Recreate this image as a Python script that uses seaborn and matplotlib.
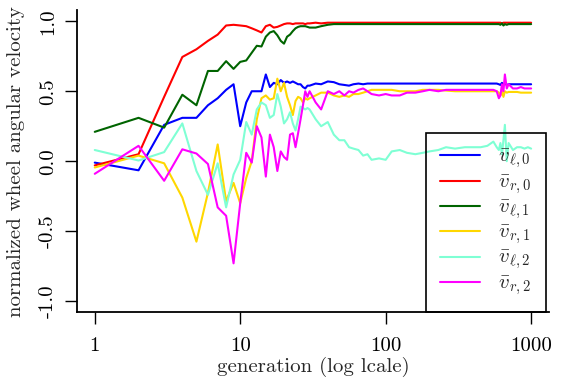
import seaborn as sns
import matplotlib.pyplot as plt

gens = list(range(1, 31)) + [33, 36, 40, 44, 48, 52, 56, 60, 65, 70, 75, 80, 90, 100,
                             110, 125, 140, 160, 180, 200, 230, 260, 300, 350, 400, 450,
                             500, 550, 580, 600, 615, 630, 645, 660, 680, 700, 750, 800,
                             850, 900, 950, 1000]

v_l0 = [-0.01, -0.065, 0.26, 0.31, 0.31, 0.40, 0.45, 0.51, 0.55, 0.25,
        0.42, 0.50, 0.50, 0.50, 0.62, 0.53, 0.56, 0.55, 0.58, 0.56,
        0.57, 0.56, 0.57, 0.56, 0.55, 0.55, 0.53, 0.52, 0.54, 0.54,
        0.555, 0.55, 0.57, 0.565, 0.55, 0.545, 0.54, 0.55, 0.555, 0.55,
        0.555, 0.555, 0.555, 0.555, 0.555, 0.555, 0.555, 0.555, 0.555, 0.555,
        0.555, 0.555, 0.555, 0.555, 0.555, 0.555, 0.555, 0.555, 0.555, 0.55,
        0.545, 0.56, 0.55, 0.555, 0.545, 0.55, 0.55, 0.55, 0.55, 0.55,
        0.55, 0.55]
v_r0 = [-0.03, 0.05, 0.46, 0.745, 0.80, 0.86, 0.905, 0.97, 0.975, 0.97,
        0.965, 0.95, 0.935, 0.92, 0.965, 0.975, 0.955, 0.96, 0.97, 0.98,
        0.985, 0.985, 0.98, 0.985, 0.985, 0.985, 0.985, 0.98, 0.985, 0.985,
        0.99, 0.985, 0.99, 0.99, 0.99, 0.99, 0.99, 0.99, 0.99, 0.99,
        0.99, 0.99, 0.99, 0.99, 0.99, 0.99, 0.99, 0.99, 0.99, 0.99,
        0.99, 0.99, 0.99, 0.99, 0.99, 0.99, 0.99, 0.99, 0.99, 0.99,
        0.99, 0.985, 0.99, 0.99, 0.99, 0.99, 0.99, 0.99, 0.99, 0.99,
        0.99, 0.99]
v_l1 = [0.21, 0.31, 0.24, 0.475, 0.40, 0.645, 0.645, 0.715, 0.66, 0.71,
        0.72, 0.775, 0.825, 0.82, 0.89, 0.92, 0.93, 0.90, 0.86, 0.84,
        0.89, 0.905, 0.93, 0.95, 0.96, 0.965, 0.965, 0.965, 0.96, 0.955,
        0.955, 0.965, 0.975, 0.98, 0.98, 0.98, 0.98, 0.98, 0.98, 0.98,
        0.98, 0.98, 0.98, 0.98, 0.98, 0.98, 0.98, 0.98, 0.98, 0.98,
        0.98, 0.98, 0.98, 0.98, 0.98, 0.98, 0.98, 0.98, 0.98, 0.98,
        0.975, 0.985, 0.97, 0.98, 0.975, 0.98, 0.98, 0.98, 0.98, 0.98,
        0.98, 0.98]
v_r1 = [-0.045, 0.04, -0.015, -0.26, -0.575, -0.225, 0.12, -0.285, -0.155, -0.30,
        -0.12, 0.0, 0.30, 0.45, 0.47, 0.44, 0.45, 0.59, 0.50, 0.56,
        0.46, 0.40, 0.33, 0.43, 0.46, 0.45, 0.42, 0.45, 0.44, 0.45,
        0.47, 0.49, 0.49, 0.47, 0.46, 0.47, 0.46, 0.48, 0.48, 0.49,
        0.50, 0.51, 0.51, 0.51, 0.51, 0.50, 0.50, 0.50, 0.51, 0.51,
        0.51, 0.505, 0.50, 0.50, 0.50, 0.50, 0.50, 0.50, 0.50, 0.49,
        0.47, 0.50, 0.46, 0.50, 0.49, 0.495, 0.495, 0.495, 0.49, 0.49,
        0.49, 0.49]
v_l2 = [0.08, 0.005, 0.065, 0.27, -0.07, -0.24, -0.015, -0.33, -0.095, 0.01,
        0.28, 0.19, 0.37, 0.42, 0.40, 0.31, 0.33, 0.48, 0.39, 0.27,
        0.30, 0.35, 0.27, 0.22, 0.30, 0.39, 0.38, 0.37, 0.38, 0.37,
        0.30, 0.25, 0.28, 0.19, 0.15, 0.15, 0.10, 0.09, 0.08, 0.04,
        0.05, 0.01, 0.02, 0.01, 0.07, 0.08, 0.06, 0.05, 0.06, 0.07,
        0.08, 0.10, 0.09, 0.10, 0.10, 0.10, 0.11, 0.14, 0.10, 0.08,
        0.13, 0.05, 0.15, 0.26, 0.00, 0.13, 0.08, 0.10, 0.10, 0.09,
        0.10, 0.09]
v_r2 = [-0.09, 0.11, -0.14, 0.085, 0.055, -0.02, -0.33, -0.39, -0.73, -0.30,
        0.06, -0.01, 0.25, 0.17, -0.11, 0.19, 0.10, -0.07, 0.07, 0.03,
        0.01, 0.19, 0.20, 0.10, 0.20, 0.30, 0.40, 0.50, 0.46, 0.50,
        0.42, 0.37, 0.50, 0.48, 0.50, 0.47, 0.50, 0.49, 0.51, 0.52,
        0.50, 0.48, 0.47, 0.48, 0.47, 0.47, 0.49, 0.49, 0.50, 0.51,
        0.50, 0.51, 0.51, 0.51, 0.51, 0.51, 0.51, 0.51, 0.50, 0.45,
        0.47, 0.55, 0.50, 0.62, 0.52, 0.55, 0.52, 0.52, 0.53, 0.52,
        0.52, 0.52]

labels = [r'$\bar{v}_{\ell,0}$', r'$\bar{v}_{r,0}$', r'$\bar{v}_{\ell,1}$',
          r'$\bar{v}_{r,1}$', r'$\bar{v}_{\ell,2}$', r'$\bar{v}_{r,2}$']
colors = ['#0000FF', '#FF0000', '#006400', '#FFD700', '#7FFFD4', '#FF00FF']
series = [v_l0, v_r0, v_l1, v_r1, v_l2, v_r2]

xticks = [1, 10, 100, 1000]
yticks = [-1.0, -0.5, 0.0, 0.5, 1.0]
ytick_labels = ['-1.0', '-0.5', '0.0', '0.5', '1.0']

sns.set_style("ticks")
plt.rcParams['font.family'] = ['cmr10', 'DejaVu Serif']
plt.rcParams['mathtext.fontset'] = 'cm'
plt.rcParams['axes.unicode_minus'] = False
plt.rcParams['font.size'] = 15

fig = plt.figure(figsize=(5.63, 3.9), dpi=100)
ax = fig.add_axes([0.1373, 0.1992, 0.8371, 0.7749])

for vals, col, lab in zip(series, colors, labels):
    sns.lineplot(x=gens, y=vals, color=col, label=lab, linewidth=1.5, ax=ax)

ax.set_xscale('log')
ax.set_xlim(10 ** -0.12, 10 ** 3.12)
ax.set_ylim(-1.08, 1.08)
ax.set_xticks(xticks)
ax.set_xticklabels([str(t) for t in xticks])
ax.xaxis.set_minor_locator(plt.NullLocator())
ax.set_yticks(yticks)
ax.set_yticklabels(ytick_labels, rotation=90, va='center')

for side in ['top', 'right']:
    ax.spines[side].set_visible(False)
for side in ['left', 'bottom']:
    ax.spines[side].set_linewidth(1.3)
    ax.spines[side].set_color('black')
ax.tick_params(direction='out', length=8.5, width=1.0, color='black',
               labelsize=15, labelcolor='black')
ax.tick_params(axis='x', pad=9)
ax.tick_params(axis='y', pad=6)

ax.set_xlabel('generation (log lcale)', fontsize=15, labelpad=2)
ax.set_ylabel('normalized wheel angular velocity', fontsize=15, labelpad=10)

leg = ax.legend(loc='lower right', bbox_to_anchor=(0.9945, 0.0), borderaxespad=0,
                fontsize=15, frameon=True, fancybox=False, framealpha=1,
                handlelength=1.9, handletextpad=0.9, borderpad=0.7,
                labelspacing=0.1)
leg.get_frame().set_facecolor('none')
leg.get_frame().set_edgecolor('black')
leg.get_frame().set_linewidth(1.2)

fig.savefig('out.png', dpi=100)
